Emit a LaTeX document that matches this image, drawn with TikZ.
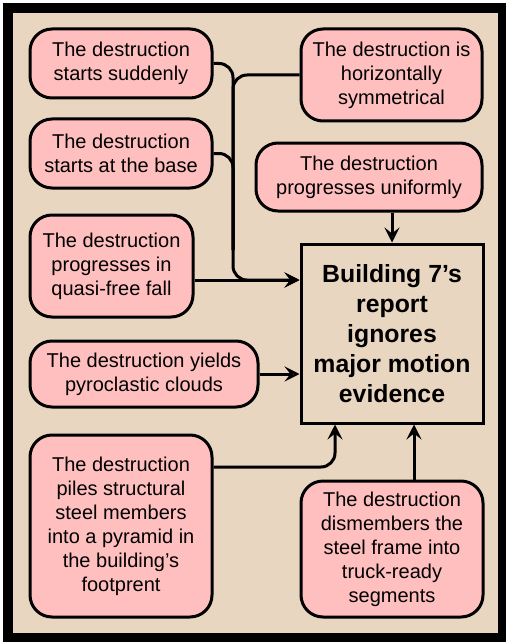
\documentclass[tikz,border=0pt]{standalone}
\usepackage{fontspec}
\setmainfont{Liberation Sans}
\usetikzlibrary{arrows.meta}

\definecolor{rosa}{RGB}{255,191,191}
\definecolor{fondo}{RGB}{233,214,192}

\begin{document}
\begin{tikzpicture}[x=0.5pt, y=-0.5pt,
    hecho/.style={draw, fill=rosa, line width=1.5pt, rounded corners=11pt,
        align=center, inner sep=0pt, font=\fontsize{10}{12}\selectfont},
    principal/.style={draw, fill=fondo, line width=1.5pt, align=center,
        inner sep=0pt, minimum width=91pt, minimum height=89.5pt,
        font=\fontsize{12.4}{15}\selectfont\bfseries},
    linea/.style={line width=1.5pt, rounded corners=7pt},
    flecha/.style={linea, -{Stealth[open, length=7.5pt, width=7.5pt, inset=3pt]}}]

    % marco
    \useasboundingbox (0,0) rectangle (506,642);
    \fill[black] (3,3) rectangle (506,642);
    \fill[fondo] (13,13) rectangle (498,633);

    % hechos a la izquierda
    \node[hecho, minimum width=91pt, minimum height=34.5pt] (repentina) at (121,63.5)
        {The destruction\\starts suddenly};
    \node[hecho, minimum width=91pt, minimum height=34.5pt] (base) at (121,153.5)
        {The destruction\\starts at the base};
    \node[hecho, minimum width=81.5pt, minimum height=51pt] (caida) at (111.5,266)
        {The destruction\\progresses in\\quasi-free fall};
    \node[hecho, minimum width=114pt, minimum height=33pt] (nubes) at (144,374)
        {The destruction yields\\pyroclastic clouds};
    \node[hecho, minimum width=91pt, minimum height=91pt] (piramide) at (121,526)
        {The destruction\\piles structural\\steel members\\into a pyramid in\\the building’s\\footprent};

    % hechos a la derecha
    \node[hecho, minimum width=90.5pt, minimum height=46pt] (simetrica) at (391.5,75)
        {The destruction is\\horizontally\\symmetrical};
    \node[hecho, minimum width=113pt, minimum height=34pt] (uniforme) at (369,177)
        {The destruction\\progresses uniformly};
    \node[hecho, minimum width=91pt, minimum height=68pt] (segmentos) at (392,549)
        {The destruction\\dismembers the\\steel frame into\\truck-ready\\segments};

    % informe
    \node[principal] (informe) at (392,333.5)
        {Building 7’s\\report\\ignores\\major motion\\evidence};

    % puntos de union
    \coordinate (tronco) at (233,250);
    \coordinate (entrada) at ([yshift=26.75pt]informe.west);
    \coordinate (pie) at ([xshift=-28.5pt]informe.south);

    % enlaces
    \draw[flecha] (repentina.east) -| (tronco |- entrada) -- (entrada);
    \draw[linea] (simetrica.west) -| (tronco);
    \draw[linea] (base.east) -| (tronco);
    \draw[flecha] (caida.east |- entrada) -- (entrada);
    \draw[flecha] (nubes.east) -- (nubes.east -| informe.west);
    \draw[flecha] (informe.north |- uniforme.south) -- (informe.north);
    \draw[flecha] ([yshift=29.5pt]piramide.east) -| (pie);
    \draw[flecha] ([xshift=11pt]segmentos.north) -- ([xshift=11pt]informe.south);

\end{tikzpicture}
\end{document}
